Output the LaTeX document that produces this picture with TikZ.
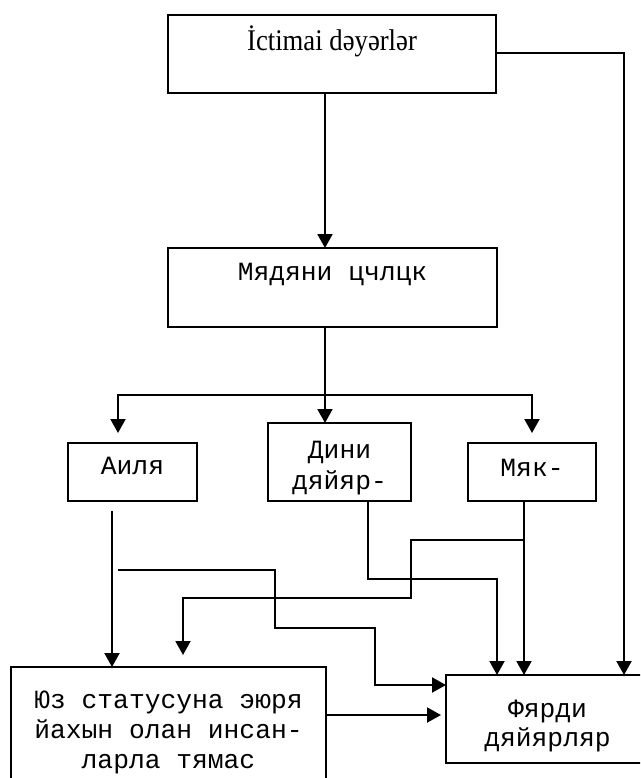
\documentclass[tikz,border=0pt]{standalone}
\usepackage{fontspec}
\usepackage{graphicx}
\setmainfont{Liberation Serif}
\newfontfamily\cyrmono{Liberation Mono}
\usetikzlibrary{arrows.meta}
\newcommand\liftt[2]{\raisebox{#1}[0pt][0pt]{#2}}
\begin{document}
\begin{tikzpicture}[x=1pt,y=-1pt,
  box/.style={draw, line width=1.5pt, inner sep=0pt, outer sep=0pt, anchor=north west,
              font=\cyrmono\fontsize{26.3}{30}\selectfont},
  arr/.style={line width=2pt, -{Triangle[length=14pt,width=15pt]}},
  ln/.style={line width=2pt}]
\useasboundingbox (0,0) rectangle (640,778);
\fill[white] (0,0) rectangle (640,778);
\clip (0,0) rectangle (640,778);

% boxes
\node[box, minimum width=328pt, minimum height=78pt] (top) at (168,15)
  {\liftt{3pt}{\rmfamily\fontsize{30}{34}\selectfont\scalebox{0.89}[1]{İctimai dəyərlər}}};
\node[box, minimum width=329pt, minimum height=79pt] (med) at (168,248)
  {\liftt{7.5pt}{Мядяни цчлцк}};
\node[box, minimum width=129pt, minimum height=58pt] (ail) at (68,443)
  {\liftt{-2pt}{Аиля}};
\node[box, minimum width=143pt, minimum height=78pt] (din) at (268,423)
  {\liftt{-27pt}{\fontsize{26.3}{31}\selectfont\begin{tabular}[b]{@{}c@{}}Дини\\дяйяр-\end{tabular}}};
\node[box, minimum width=128pt, minimum height=58pt] (myak) at (468,443)
  {\liftt{-4pt}{Мяк-}};
\node[box, minimum width=315pt, minimum height=122pt] (yuz) at (11,667)
  {\liftt{-40pt}{\begin{tabular}[b]{@{}c@{}}Юз статусуна эюря\\йахын олан инсан-\\ларла тямас\end{tabular}}};
\node[box, minimum width=203pt, minimum height=88pt] (ferdi) at (446,675)
  {\liftt{-27pt}{\fontsize{26.3}{29}\selectfont\begin{tabular}[b]{@{}c@{}}Фярди\\дяйярляр\end{tabular}}};

% helper coordinates
\coordinate (c1) at (325,0);
\coordinate (r1) at (624,53);
\coordinate (br) at (325,395);
\coordinate (ailtip) at (118,433);
\coordinate (myaktip) at (532,433);
\coordinate (ailout) at (112,511);
\coordinate (ls) at (118,570);
\coordinate (lsa) at (275,628);
\coordinate (lsb) at (375,685);
\coordinate (d1) at (368,0);
\coordinate (d2) at (497,579);
\coordinate (m1) at (524,540);
\coordinate (mb) at (411,598);
\coordinate (mtip) at (183,655);
\coordinate (e1) at (441,715);

% connectors
\draw[arr] (top.south -| c1) -- (med.north -| c1);
\draw[arr] (top.east |- r1) -- (r1) -- (ferdi.north -| r1);
\draw[ln] (med.south -| c1) -- (br);
\draw[arr] (br) -| (ailtip);
\draw[arr] (br) -| (myaktip);
\draw[arr] (br) -- (din.north -| br);
\draw[arr] (ailout) -- (yuz.north -| ailout);
\draw[arr] (ls) -| (lsa) -| (lsb) -- (ferdi.west |- lsb);
\draw[arr] (din.south -| d1) |- (d2) -- (ferdi.north -| d2);
\draw[arr] (myak.south -| m1) -- (ferdi.north -| m1);
\draw[arr] (m1) -| (mb) -| (mtip);
\draw[arr] (yuz.east |- e1) -- (e1);
\end{tikzpicture}
\end{document}
